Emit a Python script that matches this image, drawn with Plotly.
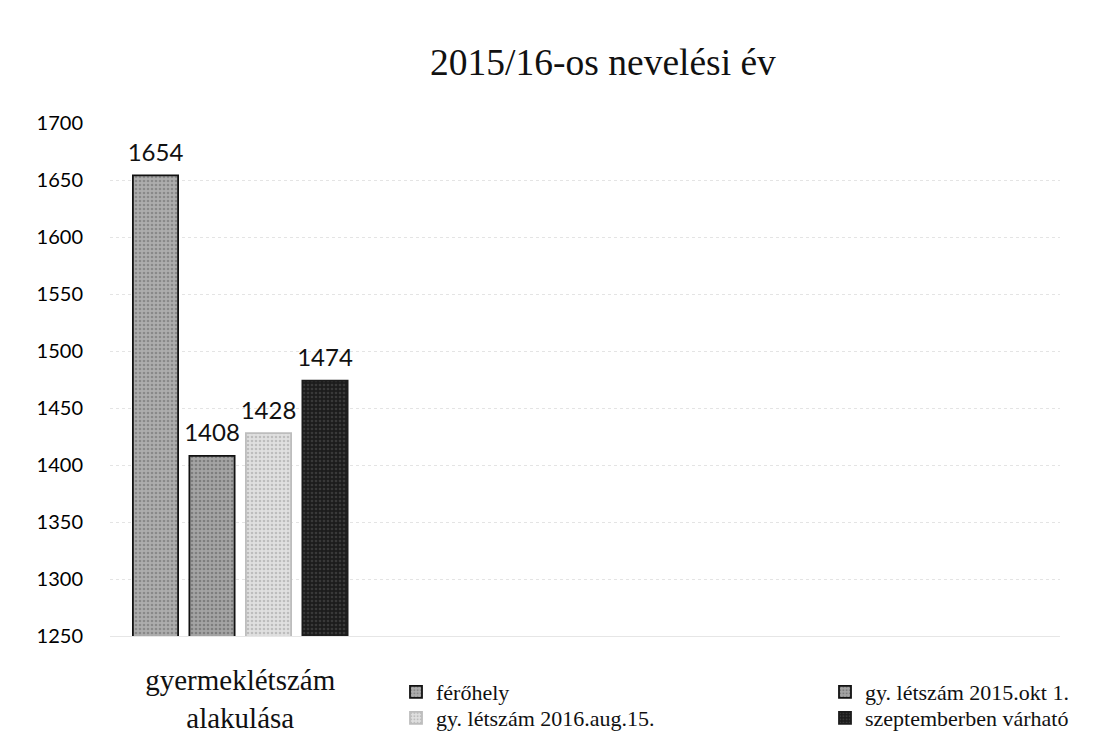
import plotly.graph_objects as go

# Data
title_text = "2015/16-os nevelési év"
category_label = "gyermeklétszám<br>alakulása"
series_names = [
    "férőhely",
    "gy. létszám 2015.okt 1.",
    "gy. létszám 2016.aug.15.",
    "szeptemberben várható",
]
series_values = [1654, 1408, 1428, 1474]
y_ticks = [1250, 1300, 1350, 1400, 1450, 1500, 1550, 1600, 1650, 1700]

# Styles per series: background, grain colour, outline colour
fill_bg = ["#adadad", "#a4a4a4", "#e0e0e0", "#1c1c1c"]
fill_fg = ["#666666", "#585858", "#9a9a9a", "#555555"]
outline = ["#111111", "#111111", "#bdbdbd", "#1c1c1c"]

# Plot frame in pixels
PLOT_L, PLOT_R, PLOT_T, PLOT_B = 110, 1060, 123, 636
PW, PH = PLOT_R - PLOT_L, PLOT_B - PLOT_T

# The four bars sit side by side in one cluster at slots 0..3
slots = list(range(len(series_values)))
group_center = (slots[0] + slots[-1]) / 2
slot_px = 56.5            # pixel pitch of one slot
first_center_px = 155.5   # pixel centre of the first bar
x_range = [(PLOT_L - first_center_px) / slot_px, (PLOT_R - first_center_px) / slot_px]

# One single-entry legend per series, laid out as a 2x2 grid under the plot
legend_ids = ["legend", "legend2", "legend3", "legend4"]
legend_px = [(396, 692), (825, 692), (396, 718), (825, 718)]

fig = go.Figure()
for slot, name, val, bg, fg, ol, lg in zip(slots, series_names, series_values,
                                            fill_bg, fill_fg, outline, legend_ids):
    fig.add_trace(go.Bar(
        x=[slot], y=[val], width=0.8, name=name, legend=lg,
        marker=dict(
            color=bg,
            line=dict(color=ol, width=1.8),
            pattern=dict(shape=".", fgcolor=fg, bgcolor=bg, size=4, solidity=0.35),
        ),
    ))

# Value labels above each bar
fig.add_trace(go.Scatter(
    x=slots, y=series_values, mode="markers+text",
    text=[str(v) for v in series_values], textposition="top center",
    marker=dict(size=12, opacity=0), showlegend=False, cliponaxis=False,
    hoverinfo="skip",
    textfont=dict(family="Lato, Open Sans, sans-serif", size=24, color="#111"),
))

legend_font = dict(family="Liberation Serif, serif", size=22, color="#111")
legend_layout = {}
for lg, (px, py) in zip(legend_ids, legend_px):
    legend_layout[lg] = dict(
        x=(px - PLOT_L) / PW, y=-(py - PLOT_B) / PH,
        xanchor="left", yanchor="middle", orientation="v",
        bgcolor="rgba(0,0,0,0)", font=legend_font, itemwidth=30,
    )

fig.update_layout(
    width=1094, height=733,
    paper_bgcolor="white", plot_bgcolor="white",
    margin=dict(l=PLOT_L, r=1094 - PLOT_R, t=PLOT_T, b=733 - PLOT_B, autoexpand=False),
    barmode="overlay",
    title=dict(text=title_text, x=603 / 1094, xanchor="center",
               y=1 - 62 / 733, yanchor="middle",
               font=dict(family="Liberation Serif, serif", size=37.5, color="#111")),
    showlegend=True,
    **legend_layout,
    xaxis=dict(
        range=x_range, tickmode="array", tickvals=[group_center],
        ticktext=[category_label], showgrid=False, zeroline=False,
        showline=True, linecolor="#e6e6e6", linewidth=1, ticks="",
        ticklabelstandoff=18, automargin=False,
        tickfont=dict(family="Liberation Serif, serif", size=29, color="#111"),
    ),
    yaxis=dict(
        range=[1250, 1700], tickmode="array", tickvals=y_ticks,
        showgrid=True, gridcolor="#e4e4e4", griddash="dot", gridwidth=1,
        zeroline=False, showline=False, ticks="", ticklabelstandoff=26,
        automargin=False,
        tickfont=dict(family="Lato, Open Sans, sans-serif", size=20, color="#000"),
    ),
)

fig.write_html("out.html")
